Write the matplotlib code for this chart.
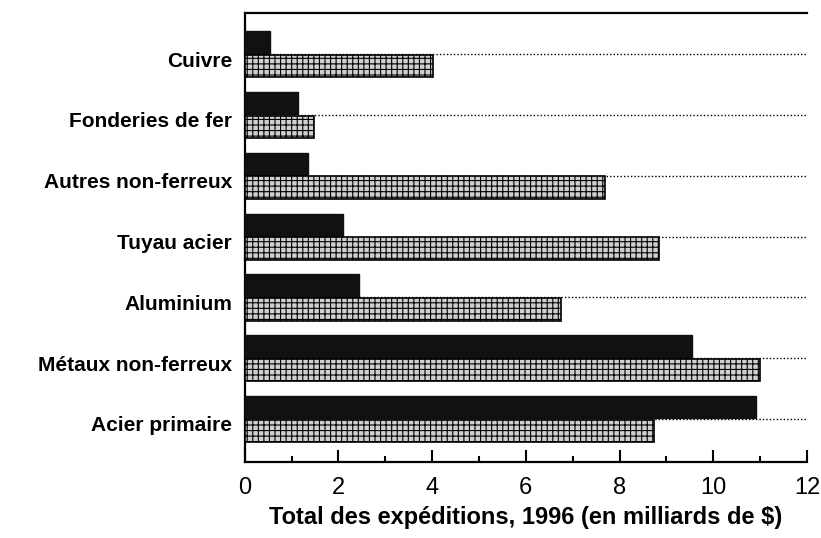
import matplotlib
matplotlib.use('Agg')
import matplotlib.pyplot as plt
import numpy as np

plt.rcParams['font.family'] = ['Liberation Sans', 'DejaVu Sans']
plt.rcParams['hatch.linewidth'] = 0.8

# top to bottom as in the picture
categories = ['Cuivre', 'Fonderies de fer', 'Autres non-ferreux', 'Tuyau acier',
              'Aluminium', 'Métaux non-ferreux', 'Acier primaire']
dark_vals = [0.55, 1.14, 1.35, 2.10, 2.44, 9.54, 10.91]
light_vals = [4.02, 1.48, 7.69, 8.85, 6.74, 10.99, 8.73]
x_ticks = [0, 2, 4, 6, 8, 10, 12]

fig = plt.figure(figsize=(8.21, 5.38), dpi=100)
ax = fig.add_axes([0.298, 0.141, 0.685, 0.835])

n = len(categories)
pos = np.arange(n)[::-1]  # Cuivre at top
h = 0.37

# dotted guide lines behind the bars
for p in pos:
    ax.axhline(p, color='black', linestyle=(0, (1, 1.5)), linewidth=1, zorder=1)

ax.barh(pos + h / 2 + 0.01, dark_vals, height=h, color='#111111',
        edgecolor='#111111', zorder=3)
ax.barh(pos - h / 2 - 0.01, light_vals, height=h, color='#cfcfcf',
        edgecolor='black', hatch='+++', linewidth=1.2, zorder=3)

ax.set_xlim(0, 12)
ax.set_ylim(-0.71, n - 1 + 0.68)
ax.set_xticks(x_ticks)
ax.set_xticklabels([str(t) for t in x_ticks], fontsize=17)
ax.set_xticks(np.arange(1, 12, 2), minor=True)
ax.tick_params(axis='x', which='major', direction='in', length=9, width=1.5, pad=11)
ax.tick_params(axis='x', which='minor', direction='in', length=4, width=1.5)

ax.set_yticks(pos - 0.08)
ax.set_yticklabels(categories, fontsize=15, fontweight='bold')
ax.tick_params(axis='y', length=0, pad=9)

ax.spines['right'].set_visible(False)
for s in ['left', 'bottom', 'top']:
    ax.spines[s].set_linewidth(1.6)

ax.set_xlabel('Total des expéditions, 1996 (en milliards de $)', fontsize=17,
              fontweight='bold', labelpad=5)

fig.savefig('out.png', dpi=100)
